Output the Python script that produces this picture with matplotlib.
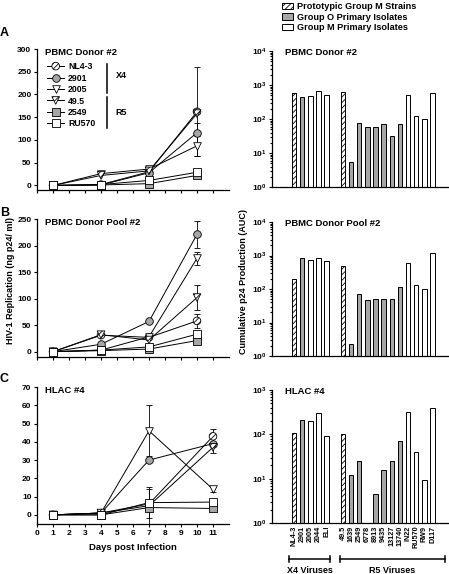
import numpy as np
import matplotlib.pyplot as plt
from matplotlib.patches import Patch
from matplotlib.legend_handler import HandlerTuple
import matplotlib.transforms as mtransforms

plt.rcParams['font.family'] = ['Liberation Sans', 'DejaVu Sans']
plt.rcParams['font.weight'] = 'bold'
plt.rcParams['mathtext.fontset'] = 'custom'
plt.rcParams['mathtext.rm'] = 'Liberation Sans:bold'
plt.rcParams['mathtext.it'] = 'Liberation Sans:bold'
plt.rcParams['mathtext.bf'] = 'Liberation Sans:bold'
plt.rcParams['hatch.linewidth'] = 0.6
plt.rcParams['axes.linewidth'] = 0.9

# kinetics (ng p24/ml)
series_names = ['NL4-3', '2901', '2005', '49.5', '2549', 'RU570']
days_ab = [1, 4, 7, 10]
days_c = [1, 4, 7, 11]

donor2 = {
    'NL4-3': [0, 2, 30, 162],
    '2901': [0, 1, 28, 116],
    '2005': [0, 26, 36, 87],
    '49.5': [0, 22, 32, 158],
    '2549': [0, 1, 4, 22],
    'RU570': [0, 2, 11, 29],
}
donor2_err = {
    'NL4-3': [0, 0, 9, 98],
    '2901': [0, 0, 0, 22],
    '2005': [0, 0, 0, 22],
    '49.5': [0, 0, 0, 0],
    '2549': [0, 0, 0, 0],
    'RU570': [0, 0, 0, 0],
}
pool2 = {
    'NL4-3': [0, 31, 27, 58],
    '2901': [0, 14, 57, 221],
    '2005': [0, 3, 28, 176],
    '49.5': [0, 32, 22, 102],
    '2549': [0, 2, 5, 21],
    'RU570': [0, 3, 9, 33],
}
pool2_err = {
    'NL4-3': [0, 0, 0, 13],
    '2901': [0, 0, 0, 26],
    '2005': [0, 0, 0, 12],
    '49.5': [0, 0, 0, 24],
    '2549': [0, 0, 0, 0],
    'RU570': [0, 0, 0, 0],
}
hlac4 = {
    'NL4-3': [0, 1, 6, 43],
    '2901': [0, 1, 30, 39],
    '2005': [0, 1, 46, 14],
    '49.5': [0, 1, 5, 37],
    '2549': [0, 0, 4, 3.5],
    'RU570': [0, 0, 6.7, 7],
}
hlac4_err = {
    'NL4-3': [0, 0, 0, 4],
    '2901': [0, 0, 0, 0],
    '2005': [0, 0, 14, 1.5],
    '49.5': [0, 0, 0, 3],
    '2549': [0, 0, 10, 0],
    'RU570': [0, 0, 8.5, 0],
}

# cumulative p24 (AUC)
x4_names = ['NL4-3', '2901', '2005', '2044', 'ELI']
r5_names = ['49.5', '1639', '2549', '6778', '8913', '9435', '13127', '13740',
            'IN22', 'RU570', 'RW9', 'D117']
x4_groups = ['proto', 'O', 'M', 'M', 'M']
r5_groups = ['proto', 'O', 'O', 'O', 'O', 'O', 'O', 'O', 'M', 'M', 'M', 'M']
auc_donor2 = [580, 435, 470, 680, 500,
              610, 5.5, 78, 60, 60, 73, 32, 70, 515, 125, 98, 600]
auc_pool2 = [195, 870, 710, 850, 690,
             470, 2.3, 71, 47, 51, 51, 51, 112, 590, 130, 102, 1170]
auc_hlac4 = [105, 214, 196, 307, 90,
             100, 12.1, 25, np.nan, 4.5, 16, 25, 72, 325, 39, 9.2, 400]

styles = {
    'NL4-3': ('o', 'white', '//////'),
    '2901': ('o', '#a6a6a6', None),
    '2005': ('v', 'white', None),
    '49.5': ('v', 'white', '//////'),
    '2549': ('s', '#a6a6a6', None),
    'RU570': ('s', 'white', None),
}
group_style = {
    'proto': ('white', '//////'),
    'O': ('#a6a6a6', None),
    'M': ('white', None),
}

W, H = 449, 574
fig = plt.figure(figsize=(W / 100, H / 100), dpi=100)


def rect(x0, x1, ytop, ybot):
    return [x0 / W, 1 - ybot / H, (x1 - x0) / W, (ybot - ytop) / H]


def kinetics(ax, days, data, errs, ylim, yticks, title, xlabels):
    handles = []
    for name in series_names:
        m, fc, h = styles[name]
        v = np.array(data[name], dtype=float)
        e = np.array(errs[name], dtype=float)
        d = np.array(days, dtype=float)
        ln, = ax.plot(d, v, color='k', lw=0.7, zorder=2)
        mask = e > 0
        if mask.any():
            ax.errorbar(d[mask], v[mask], yerr=e[mask], fmt='none', ecolor='k',
                        elinewidth=0.6, capsize=2, capthick=0.6, zorder=3)
        sc = ax.scatter(d, v, s=30, marker=m, facecolor=fc, edgecolor='k',
                        linewidth=0.6, hatch=h, zorder=4)
        handles.append((ln, sc))
    ax.set_xlim(0, 12)
    ax.set_ylim(*ylim)
    ax.set_yticks(yticks)
    ax.set_xticks(range(0, 12))
    if not xlabels:
        ax.set_xticklabels([])
    ax.spines['top'].set_visible(False)
    ax.spines['right'].set_visible(False)
    ax.tick_params(labelsize=6, length=2.5, width=0.8, pad=1.5)
    ax.text(0.04, 0.975, title, transform=ax.transAxes, fontsize=6.8,
            fontweight='bold', va='center')
    return handles


def auc_bars(ax, values, ylim, title, xlabels):
    names = x4_names + r5_names
    groups = x4_groups + r5_groups
    pos = list(range(len(x4_names))) + [len(x4_names) + 1 + i for i in range(len(r5_names))]
    for p, v, g in zip(pos, values, groups):
        fc, h = group_style[g]
        if np.isnan(v):
            continue
        ax.bar(p, v, width=0.55, color=fc, edgecolor='k', linewidth=0.7, hatch=h)
    ax.set_yscale('log')
    ax.set_ylim(*ylim)
    ax.set_xlim(-2.7, 18.9)
    ax.spines['top'].set_visible(False)
    ax.spines['right'].set_visible(False)
    ax.tick_params(axis='y', which='both', labelsize=6, width=0.8, pad=1.5)
    ax.tick_params(axis='y', which='major', length=2.5)
    ax.tick_params(axis='y', which='minor', length=1.5)
    if xlabels:
        ax.set_xticks(pos, names, rotation=90, fontsize=5.2)
        ax.tick_params(axis='x', length=0, pad=2)
    else:
        ax.set_xticks([])
    ax.text(0.075, 0.99, title, transform=ax.transAxes, fontsize=6.8,
            fontweight='bold', va='center')
    return pos


axA = fig.add_axes(rect(37, 229, 49, 190))
hA = kinetics(axA, days_ab, donor2, donor2_err, (-10, 300), range(0, 301, 50),
              'PBMC Donor #2', False)
axB = fig.add_axes(rect(37, 229, 219, 357))
kinetics(axB, days_ab, pool2, pool2_err, (-10, 250), range(0, 251, 50),
         'PBMC Donor Pool #2', False)
axC = fig.add_axes(rect(37, 229, 387, 524))
kinetics(axC, days_c, hlac4, hlac4_err, (-5, 70), range(0, 71, 10),
         'HLAC #4', True)
axC.set_xlabel('Days post Infection', fontsize=6.8, fontweight='bold', labelpad=5)

axA.legend(hA, series_names, handler_map={tuple: HandlerTuple(ndivide=1)},
           loc='upper left', bbox_to_anchor=(0.02, 0.95), frameon=False,
           fontsize=6.3, handlelength=2.0, handletextpad=0.4, labelspacing=0.28,
           scatteryoffsets=[0.5], borderpad=0.2)
axA.plot([0.365, 0.365], [0.895, 0.69], transform=axA.transAxes, color='k', lw=1.1)
axA.plot([0.365, 0.365], [0.66, 0.44], transform=axA.transAxes, color='k', lw=1.1)
axA.text(0.41, 0.81, 'X4', transform=axA.transAxes, fontsize=6.5, fontweight='bold', va='center')
axA.text(0.41, 0.55, 'R5', transform=axA.transAxes, fontsize=6.5, fontweight='bold', va='center')

bA = fig.add_axes(rect(272, 448, 51, 187))
auc_bars(bA, auc_donor2, (1, 1e4), 'PBMC Donor #2', False)
bB = fig.add_axes(rect(272, 448, 222, 356))
auc_bars(bB, auc_pool2, (1, 1e4), 'PBMC Donor Pool #2', False)
bC = fig.add_axes(rect(272, 448, 390, 523))
auc_bars(bC, auc_hlac4, (1, 1e3), 'HLAC #4', True)

# virus class brackets below bottom-right panel
tr = mtransforms.blended_transform_factory(bC.transData, bC.transAxes)
for x0, x1, lab in [(-0.6, 4.4, 'X4 Viruses'), (5.6, 18.5, 'R5 Viruses')]:
    bC.plot([x0, x1], [-0.27, -0.27], transform=tr, color='k', lw=1.1, clip_on=False)
    for xe in (x0, x1):
        bC.plot([xe, xe], [-0.245, -0.295], transform=tr, color='k', lw=1.1, clip_on=False)
    bC.text((x0 + x1) / 2, -0.355, lab, transform=tr, fontsize=6.5,
            fontweight='bold', ha='center', va='center')

# bar group legend
fig.legend([Patch(facecolor='white', edgecolor='k', hatch='//////', lw=0.7),
            Patch(facecolor='#a6a6a6', edgecolor='k', lw=0.7),
            Patch(facecolor='white', edgecolor='k', lw=0.7)],
           ['Prototypic Group M Strains', 'Group O Primary Isolates',
            'Group M Primary Isolates'],
           loc='upper left', bbox_to_anchor=(276 / W, 1.006), frameon=False,
           fontsize=6.6, handlelength=1.2, handleheight=0.7, handletextpad=0.5,
           labelspacing=0.18, borderpad=0.1)

fig.text(0 / W, 1 - 33 / H, 'A', fontsize=9, fontweight='bold', va='center')
fig.text(0 / W, 1 - 212.5 / H, 'B', fontsize=9, fontweight='bold', va='center')
fig.text(0 / W, 1 - 379 / H, 'C', fontsize=9, fontweight='bold', va='center')
fig.text(10.5 / W, 1 - 280 / H, 'HIV-1 Replication (ng p24/ ml)', rotation=90,
         fontsize=6.5, fontweight='bold', ha='center', va='center')
fig.text(243.5 / W, 1 - 282 / H, 'Cumulative p24 Production (AUC)', rotation=90,
         fontsize=6.5, fontweight='bold', ha='center', va='center')

fig.savefig('out.png', dpi=100)
